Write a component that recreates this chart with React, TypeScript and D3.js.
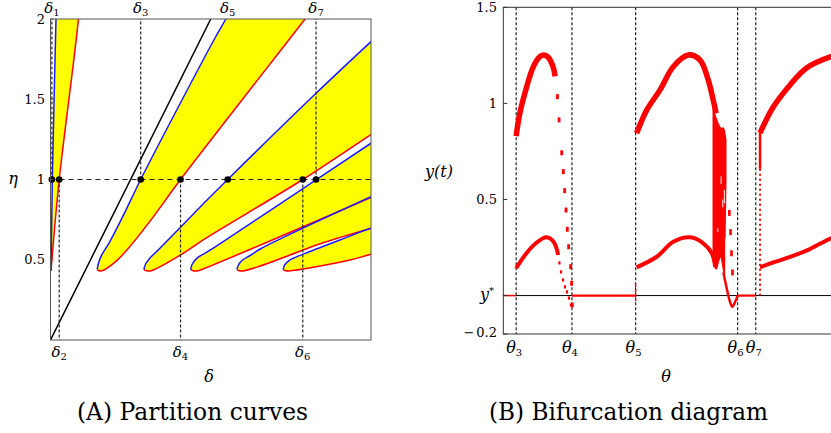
import React from 'react';
import * as d3 from 'd3';

type Pt = [number, number];

// ---------- (A) partition curves, points are [delta, eta] ----------
const etaTicks = [0.5, 1, 1.5, 2];
const deltaMarks = [0.03, 0.19, 1.97, 2.84, 3.87, 5.51, 5.8];
const deltaNames = ['1', '2', '3', '4', '5', '6', '7'];
// dashed guide from the eta = 1 line: up to the top, down to the axis, or none
const deltaGuides = ['up', 'down', 'up', 'down', 'none', 'down', 'up'];
const blackLine: Pt[] = [[0, 0], [3.5, 2]];

// upper (blue) branch of each tongue, starting at the tip
const blueCurves: Pt[][] = [
  [[0.01, 0.43], [0.02, 0.6], [0.04, 1.0], [0.12, 2.0], [0.14, 2.25]],
  [[1.02, 0.44], [1.05, 0.48], [1.12, 0.53], [1.29, 0.61], [1.58, 0.77], [1.97, 1.0], [2.88, 1.5], [3.59, 1.88], [3.83, 2.0], [4.2, 2.2]],
  [[2.04, 0.44], [2.08, 0.475], [2.17, 0.51], [2.35, 0.56], [2.85, 0.705], [3.37, 0.858], [3.87, 1.0], [5.8, 1.537], [7.0, 1.859], [7.8, 2.07]],
  [[3.06, 0.44], [3.1, 0.475], [3.2, 0.51], [3.37, 0.54], [3.59, 0.579], [5.8, 0.997], [7.0, 1.226], [7.6, 1.34]],
  [[4.07, 0.44], [4.11, 0.47], [4.2, 0.5], [4.35, 0.525], [4.58, 0.567], [5.12, 0.644], [7.0, 0.893], [7.6, 0.97]],
  [[5.08, 0.44], [5.12, 0.47], [5.21, 0.495], [5.35, 0.515], [5.56, 0.54], [6.32, 0.623], [7.0, 0.696], [7.6, 0.74]],
];

// lower (red) branch of each tongue, starting at the tip
const redCurves: Pt[][] = [
  [[0.01, 0.43], [0.06, 0.6], [0.19, 1.0], [0.61, 2.0], [0.67, 2.25]],
  [[1.02, 0.44], [1.05, 0.433], [1.12, 0.431], [1.41, 0.485], [1.7, 0.571], [2.22, 0.758], [2.84, 1.0], [5.56, 2.0], [6.1, 2.2]],
  [[2.04, 0.44], [2.08, 0.433], [2.18, 0.43], [2.87, 0.535], [3.37, 0.63], [5.51, 1.0], [7.0, 1.28], [7.6, 1.39]],
  [[3.06, 0.44], [3.1, 0.433], [3.2, 0.43], [3.37, 0.447], [5.12, 0.657], [7.0, 0.888], [7.6, 0.96]],
  [[4.07, 0.44], [4.11, 0.433], [4.2, 0.43], [4.58, 0.461], [5.12, 0.517], [5.89, 0.6], [7.0, 0.695], [7.6, 0.74]],
  [[5.08, 0.44], [5.12, 0.433], [5.21, 0.43], [5.89, 0.461], [6.54, 0.498], [7.0, 0.534], [7.6, 0.57]],
];

// ---------- (B) bifurcation diagram, points are [theta, y] ----------
const yTicksB = [1.5, 1, 0.5];
const thetaMarks = [0.39, 2.08, 4.01, 7.1, 7.65];
const thetaNames = ['3', '4', '5', '6', '7'];

const upper1: Pt[] = [[0.39, 0.83], [0.5, 0.948], [0.71, 1.087], [0.91, 1.191], [1.11, 1.243], [1.23, 1.252], [1.36, 1.24], [1.51, 1.19], [1.57, 1.14]];
const upperDrop1: Pt[] = [[1.64, 1.035], [1.69, 0.914], [1.77, 0.743], [1.82, 0.645], [1.86, 0.546], [1.9, 0.445], [1.94, 0.345], [1.98, 0.254], [2.04, 0.15], [2.07, 0.064], [2.09, -0.049]];
const lower1: Pt[] = [[0.39, 0.142], [0.66, 0.211], [0.96, 0.268], [1.29, 0.303], [1.48, 0.289], [1.6, 0.253], [1.66, 0.211]];
const lowerDrop1: Pt[] = [[1.7, 0.17], [1.75, 0.123], [1.81, 0.081], [1.87, 0.045], [1.93, 0.019], [1.99, -0.013], [2.05, -0.049]];

const upper2: Pt[] = [[4.04, 0.844], [4.35, 0.966], [4.75, 1.07], [5.15, 1.191], [5.61, 1.252], [5.96, 1.226], [6.21, 1.122], [6.36, 1.018], [6.45, 0.948]];
const lower2: Pt[] = [[4.04, 0.147], [4.65, 0.202], [5.15, 0.28], [5.66, 0.303], [6.06, 0.272], [6.32, 0.22], [6.42, 0.15]];
// chaotic band envelope: [theta, top, bottom]
const chaos: [number, number, number][] = [
  [6.34, 0.99, 0.2], [6.355, 0.976, 0.175], [6.4, 0.955, 0.144], [6.445, 0.934, 0.133], [6.491, 0.914, 0.144],
  [6.536, 0.893, 0.175], [6.582, 0.877, 0.2], [6.627, 0.872, 0.16], [6.673, 0.877, 0.107],
  [6.718, 0.861, 0.09], [6.764, 0.809, 0.6],
];
// a few gaps inside the band: [theta, top, bottom]
const chaosGaps: [number, number, number][] = [
  [6.6, 0.62, 0.58], [6.65, 0.5, 0.46], [6.7, 0.55, 0.48], [6.5, 0.35, 0.33], [6.74, 0.3, 0.2],
];
const dip2: Pt[] = [[6.67, 0.12], [6.78, 0.03], [6.87, -0.033], [6.94, -0.058], [7.02, -0.035], [7.1, 0]];
const drop2: Pt[] = [[6.85, 0.43], [6.885, 0.33], [6.915, 0.22], [6.945, 0.12]];
const flats: Pt[] = [[2.08, 4.01], [7.1, 7.65]];
const jumpTheta = 7.78;
const jumpSolid: Pt = [0.85, 0.66];
const jumpDotted: Pt = [0.66, 0];
const upper3: Pt[] = [[7.78, 0.846], [8.18, 0.981], [8.69, 1.096], [9.19, 1.184], [9.93, 1.243], [10.1, 1.25]];
const lower3: Pt[] = [[7.78, 0.147], [8.23, 0.175], [8.69, 0.201], [9.29, 0.242], [9.93, 0.298], [10.1, 0.305]];

const FONT = '"DejaVu Serif", serif';
const RED = '#ff0000';
const BLUE = '#1a1aff';

export default function App() {
  // panel A
  const xA = d3.scaleLinear().domain([0, 7]).range([50.5, 371]);
  const yA = d3.scaleLinear().domain([0, 2]).range([340, 19]);
  const lineA = d3.line<Pt>().x(d => xA(d[0])).y(d => yA(d[1])).curve(d3.curveCatmullRom.alpha(0.5));
  const tongues = blueCurves.map((b, i) => [...b.slice().reverse(), ...redCurves[i].slice(1)]);

  // panel B
  const xB = d3.scaleLinear().domain([0, 10]).range([503.3, 833.3]);
  const yB = d3.scaleLinear().domain([-0.2, 1.5]).range([334, 7.3]);
  const lineB = d3.line<Pt>().x(d => xB(d[0])).y(d => yB(d[1])).curve(d3.curveCatmullRom.alpha(0.5));
  const chaosArea = d3.area<[number, number, number]>().x(d => xB(d[0])).y0(d => yB(d[2])).y1(d => yB(d[1]));

  const dots = (pts: Pt[], w: number, h: number, key: string) =>
    pts.map((d, i) => (
      <rect key={key + i} x={xB(d[0]) - w / 2} y={yB(d[1]) - h / 2} width={w} height={h} fill={RED} />
    ));

  return (
    <svg width={831} height={433} style={{ position: 'absolute', left: 0, top: 0, background: '#fff' }}>
      <defs>
        <clipPath id="clipA">
          <rect x={xA(0)} y={yA(2)} width={xA(7) - xA(0)} height={yA(0) - yA(2)} />
        </clipPath>
        <clipPath id="clipB">
          <rect x={xB(0)} y={yB(1.5)} width={340} height={yB(-0.2) - yB(1.5)} />
        </clipPath>
      </defs>

      {/* ---------- panel A ---------- */}
      <g clipPath="url(#clipA)">
        {tongues.map((t, i) => (
          <path key={'f' + i} d={lineA(t) + 'Z'} fill="#ffff00" stroke="none" />
        ))}
        <path d={lineA(blackLine) || ''} stroke="#000" strokeWidth={1.5} fill="none" />
        {redCurves.map((c, i) => (
          <path key={'r' + i} d={lineA(c) || ''} stroke={RED} strokeWidth={1.5} fill="none" />
        ))}
        {blueCurves.map((c, i) => (
          <path key={'b' + i} d={lineA(c) || ''} stroke={BLUE} strokeWidth={1.5} fill="none" />
        ))}
        <line x1={xA(0)} x2={xA(7)} y1={yA(1)} y2={yA(1)} stroke="#222" strokeWidth={1.2} strokeDasharray="5 4" />
        {deltaMarks.map((d, i) =>
          deltaGuides[i] === 'none' ? null : (
            <line key={'g' + i} x1={xA(d)} x2={xA(d)} y1={yA(1)} y2={deltaGuides[i] === 'up' ? yA(2) : yA(0)}
              stroke="#222" strokeWidth={1.2} strokeDasharray="3 2" />
          )
        )}
      </g>
      {deltaMarks.map((d, i) => (
        <circle key={'c' + i} cx={xA(d)} cy={yA(1)} r={3.3} fill="#000" />
      ))}
      <rect x={xA(0)} y={yA(2)} width={xA(7) - xA(0)} height={yA(0) - yA(2)} fill="none" stroke="#555" strokeWidth={1} />

      <g fontFamily={FONT} style={{ fontFamily: FONT }}>
        {etaTicks.map(t => (
          <g key={'et' + t}>
            <line x1={xA(0)} x2={xA(0) + 3} y1={yA(t)} y2={yA(t)} stroke="#555" />
            <text x={45} y={yA(t)} dy="0.35em" textAnchor="end" fontSize={13}>{t}</text>
          </g>
        ))}
        <text x={13} y={yA(1)} dy="0.3em" textAnchor="middle" fontSize={16} fontStyle="italic">η</text>
        {deltaMarks.map((d, i) => {
          const top = i % 2 === 0;
          return (
            <text key={'dl' + i} x={xA(d)} y={top ? 12.5 : 356.5} textAnchor="middle" fontSize={15}>
              <tspan fontStyle="italic">δ</tspan>
              <tspan fontSize={10} dy={3}>{deltaNames[i]}</tspan>
            </text>
          );
        })}
        <text x={209} y={381.5} textAnchor="middle" fontSize={16} fontStyle="italic">δ</text>
        <text x={192.5} y={420} textAnchor="middle" fontSize={25} textLength={231} lengthAdjust="spacingAndGlyphs">(A) Partition curves</text>
      </g>

      {/* ---------- panel B ---------- */}
      <line x1={xB(0)} x2={831} y1={yB(0)} y2={yB(0)} stroke="#000" strokeWidth={1} />
      <g clipPath="url(#clipB)">
        {thetaMarks.map((t, i) => (
          <line key={'tg' + i} x1={xB(t)} x2={xB(t)} y1={yB(1.5)} y2={yB(-0.2)} stroke="#222" strokeWidth={1.2} strokeDasharray="3 2" />
        ))}
        <line x1={xB(0)} x2={xB(thetaMarks[0])} y1={yB(0)} y2={yB(0)} stroke={RED} strokeWidth={1.5} />
        {flats.map((f, i) => (
          <line key={'fl' + i} x1={xB(f[0])} x2={xB(f[1])} y1={yB(0)} y2={yB(0)} stroke={RED} strokeWidth={2.2} />
        ))}
        {[upper1, upper2, upper3].map((c, i) => (
          <path key={'u' + i} d={lineB(c) || ''} stroke={RED} strokeWidth={5.5} fill="none" />
        ))}
        {[lower1, lower2, lower3].map((c, i) => (
          <path key={'l' + i} d={lineB(c) || ''} stroke={RED} strokeWidth={4} fill="none" />
        ))}
        {dots(upperDrop1, 2.8, 5, 'ud')}
        {dots(lowerDrop1, 2.2, 3.2, 'ld')}
        {dots(drop2, 2.6, 6, 'd2')}
        <path d={chaosArea(chaos) || ''} fill={RED} />
        {chaosGaps.map((c, i) => (
          <rect key={'cg' + i} x={xB(c[0]) - 0.6} y={yB(c[1])} width={1.2} height={yB(c[2]) - yB(c[1])} fill="#fff" opacity={0.8} />
        ))}
        <path d={lineB(dip2) || ''} stroke={RED} strokeWidth={2.5} fill="none" />
        <line x1={xB(jumpTheta)} x2={xB(jumpTheta)} y1={yB(jumpSolid[0])} y2={yB(jumpSolid[1])} stroke={RED} strokeWidth={2.5} />
        <line x1={xB(jumpTheta)} x2={xB(jumpTheta)} y1={yB(jumpDotted[0])} y2={yB(jumpDotted[1])} stroke={RED} strokeWidth={2} strokeDasharray="2 3" />
        <line x1={xB(thetaMarks[2])} x2={xB(thetaMarks[2])} y1={yB(0.06)} y2={yB(-0.03)} stroke={RED} strokeWidth={1.5} strokeDasharray="3 2" />
      </g>
      <rect x={xB(0)} y={yB(1.5)} width={340} height={yB(-0.2) - yB(1.5)} fill="none" stroke="#333" strokeWidth={1} />
      {[...yTicksB, 0, -0.2].map(t => (
        <line key={'yt' + t} x1={xB(0)} x2={xB(0) + 4} y1={yB(t)} y2={yB(t)} stroke="#333" />
      ))}
      <g fontFamily={FONT} style={{ fontFamily: FONT }}>
        {yTicksB.map(t => (
          <text key={'ytl' + t} x={497} y={yB(t)} dy="0.35em" textAnchor="end" fontSize={13}>{t}</text>
        ))}
        <text x={494} y={yB(0)} dy="0.3em" textAnchor="end" fontSize={16}>
          <tspan fontStyle="italic">y</tspan>
          <tspan fontSize={10} dy={-6}>*</tspan>
        </text>
        <text x={497} y={yB(-0.2) - 2} dy="0.35em" textAnchor="end" fontSize={13}>
          <tspan>−</tspan>
          <tspan dx={2}>0.2</tspan>
        </text>
        <text x={439} y={176.5} textAnchor="middle" fontSize={16} fontStyle="italic" textLength={28} lengthAdjust="spacingAndGlyphs">y(t)</text>
        {thetaMarks.map((t, i) => (
          <text key={'tl' + i} x={xB(t) - 2} y={353} textAnchor="middle" fontSize={16}>
            <tspan fontStyle="italic">θ</tspan>
            <tspan fontSize={10} dy={3}>{thetaNames[i]}</tspan>
          </text>
        ))}
        <text x={666} y={381.5} textAnchor="middle" fontSize={16} fontStyle="italic">θ</text>
        <text x={628.5} y={420} textAnchor="middle" fontSize={25} textLength={279} lengthAdjust="spacingAndGlyphs">(B) Bifurcation diagram</text>
      </g>
    </svg>
  );
}
